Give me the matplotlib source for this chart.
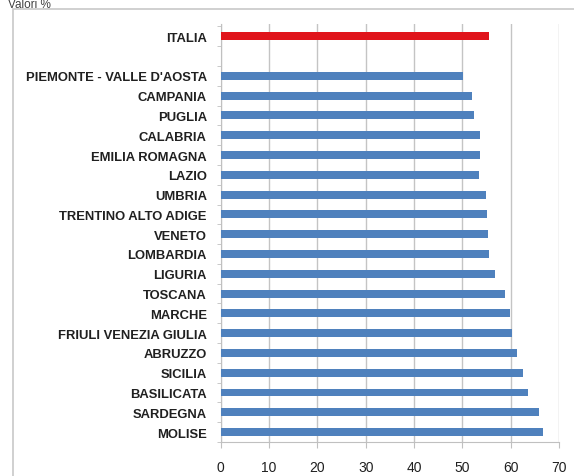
import numpy as np
import matplotlib.pyplot as plt
from matplotlib.patches import Rectangle

# categories top to bottom (blank slot between ITALIA and the regions)
regions = ["ITALIA", "",
           "PIEMONTE - VALLE D'AOSTA", "CAMPANIA", "PUGLIA", "CALABRIA",
           "EMILIA ROMAGNA", "LAZIO", "UMBRIA", "TRENTINO ALTO ADIGE",
           "VENETO", "LOMBARDIA", "LIGURIA", "TOSCANA", "MARCHE",
           "FRIULI VENEZIA GIULIA", "ABRUZZO", "SICILIA", "BASILICATA",
           "SARDEGNA", "MOLISE"]
values = [55.6, np.nan,
          50.1, 51.9, 52.4, 53.6,
          53.6, 53.5, 54.8, 55.0,
          55.3, 55.6, 56.8, 58.9, 59.9,
          60.3, 61.4, 62.6, 63.6,
          65.9, 66.6]
xticks = [0, 10, 20, 30, 40, 50, 60, 70]

plt.rcParams['font.family'] = ['Liberation Sans Narrow', 'Liberation Sans', 'DejaVu Sans']

fig = plt.figure(figsize=(5.74, 4.77), dpi=100)
W, H = 574, 477

# outer chart frame (cut off at right and bottom)
fig.patches.append(Rectangle((13 / W, -0.1), 1.1, 1 - 10 / H + 0.1,
                             transform=fig.transFigure, fill=False,
                             edgecolor='#c8c8c8', linewidth=1.2))
fig.text(8 / W, 1 - 8 / H, "Valori %", fontsize=8.5, color='#404040',
         va='baseline', ha='left')

ax = fig.add_axes([220.7 / W, 1 - 443 / H, (559 - 220.7) / W, (443 - 25) / H])

y = np.arange(len(regions))
colors = ['#e0141b' if r == "ITALIA" else '#4f81bd' for r in regions]
vals = np.nan_to_num(np.array(values, dtype=float))
ax.barh(y, vals, height=0.4, color=colors, zorder=3)

ax.set_xlim(0, 70)
ax.set_ylim(len(regions) - 0.52, -0.62)
ax.set_xticks(xticks)
ax.set_xticklabels([str(t) for t in xticks], fontsize=10, color='#202020')
ax.set_yticks(y)
ax.set_yticklabels(regions, fontsize=9.4, fontweight='bold', color='#202020')
ax.set_yticks(np.arange(-0.5, len(regions), 1), minor=True)
ax.tick_params(axis='y', which='major', length=0, pad=10)
ax.tick_params(axis='y', which='minor', length=3, color='#c0c0c0')
ax.tick_params(axis='x', length=4, color='#c0c0c0', pad=9)

ax.grid(axis='x', color='#c4c4c4', linewidth=1.0, zorder=0)
for s in ['top', 'right']:
    ax.spines[s].set_visible(False)
for s in ['left', 'bottom']:
    ax.spines[s].set_color('#c0c0c0')

fig.savefig('out.png', dpi=100)
